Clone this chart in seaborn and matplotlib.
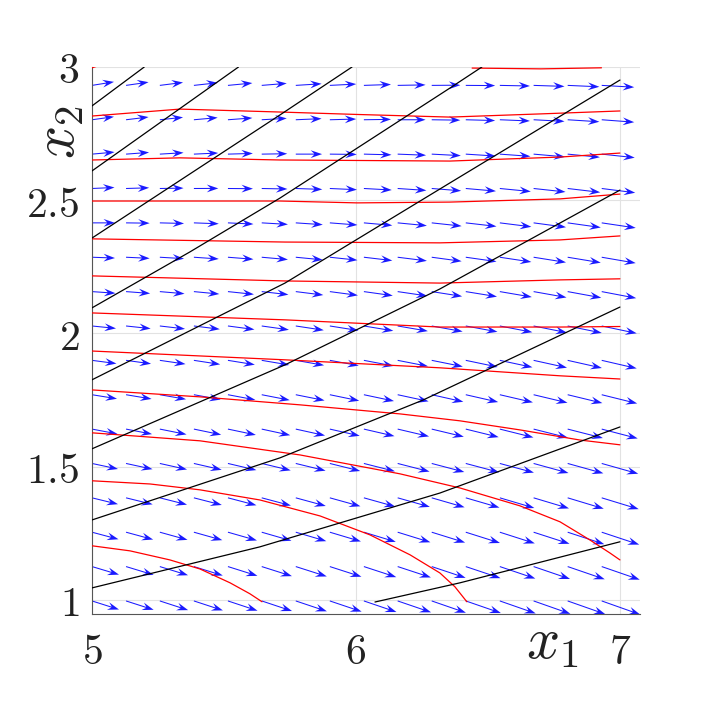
import numpy as np
import pandas as pd
import seaborn as sns
import matplotlib
matplotlib.use("Agg")
import matplotlib.pyplot as plt

# arrow tails of the quiver grid
x1_grid = [5.000, 5.129, 5.257, 5.386, 5.515, 5.643, 5.772, 5.901,
           6.030, 6.158, 6.287, 6.416, 6.545, 6.673, 6.802, 6.931]
x2_grid = [0.996, 1.125, 1.254, 1.383, 1.512, 1.641, 1.770, 1.899,
           2.028, 2.157, 2.286, 2.415, 2.544, 2.673, 2.802, 2.931]

# field components (rows bottom -> top)
U = [
    [27.0, 27.6, 28.3, 29.0, 29.6, 30.3, 31.1, 31.8, 32.6, 33.4, 34.2, 35.1, 35.9, 36.8, 37.6, 38.5],
    [27.0, 27.6, 28.2, 28.9, 29.5, 30.2, 31.0, 31.6, 32.4, 33.2, 33.9, 34.7, 35.5, 36.4, 37.1, 38.0],
    [26.5, 27.1, 27.7, 28.4, 29.0, 29.7, 30.5, 31.1, 31.9, 32.7, 33.4, 34.2, 35.0, 35.9, 36.6, 37.5],
    [26.0, 26.6, 27.2, 27.9, 28.5, 29.2, 30.0, 30.6, 31.4, 32.2, 32.9, 33.7, 34.5, 35.4, 36.1, 37.0],
    [26.0, 26.5, 27.2, 27.8, 28.4, 29.0, 29.8, 30.4, 31.1, 31.9, 32.6, 33.4, 34.1, 34.9, 35.7, 36.5],
    [25.5, 26.0, 26.7, 27.3, 27.9, 28.5, 29.3, 29.9, 30.6, 31.4, 32.1, 32.9, 33.6, 34.4, 35.2, 36.0],
    [25.0, 25.5, 26.2, 26.8, 27.4, 28.0, 28.8, 29.4, 30.1, 30.9, 31.6, 32.4, 33.1, 33.9, 34.7, 35.5],
    [24.5, 25.0, 25.7, 26.3, 26.9, 27.5, 28.3, 28.9, 29.6, 30.4, 31.1, 31.9, 32.6, 33.4, 34.2, 35.0],
    [24.0, 24.6, 25.2, 25.9, 26.5, 27.2, 28.0, 28.6, 29.4, 30.2, 30.9, 31.7, 32.5, 33.4, 34.1, 35.0],
    [23.5, 24.1, 24.7, 25.4, 26.0, 26.7, 27.5, 28.1, 28.9, 29.7, 30.4, 31.2, 32.0, 32.9, 33.6, 34.5],
    [23.0, 23.6, 24.2, 24.9, 25.5, 26.2, 27.0, 27.6, 28.4, 29.2, 29.9, 30.7, 31.5, 32.4, 33.1, 34.0],
    [23.0, 23.6, 24.2, 24.9, 25.5, 26.2, 27.0, 27.6, 28.4, 29.2, 29.9, 30.7, 31.5, 32.4, 33.1, 34.0],
    [22.5, 23.1, 23.7, 24.4, 25.0, 25.7, 26.5, 27.1, 27.9, 28.7, 29.4, 30.2, 31.0, 31.9, 32.6, 33.5],
    [22.5, 23.0, 23.7, 24.3, 24.9, 25.5, 26.3, 26.9, 27.6, 28.4, 29.1, 29.9, 30.6, 31.4, 32.2, 33.0],
    [22.0, 22.5, 23.2, 23.8, 24.4, 25.0, 25.8, 26.4, 27.1, 27.9, 28.6, 29.4, 30.1, 30.9, 31.7, 32.5],
    [22.0, 22.5, 23.2, 23.8, 24.4, 25.0, 25.8, 26.4, 27.1, 27.9, 28.6, 29.4, 30.1, 30.9, 31.7, 32.5],
]
V = [
    [-8.5, -8.8, -9.1, -9.4, -9.7, -10.0, -10.3, -10.6, -11.0, -11.3, -11.7, -12.0, -12.4, -12.8, -13.1, -13.5],
    [-8.0, -8.3, -8.6, -8.9, -9.2, -9.5, -9.8, -10.1, -10.5, -10.8, -11.2, -11.5, -11.9, -12.3, -12.6, -13.0],
    [-7.0, -7.3, -7.6, -7.9, -8.2, -8.5, -8.9, -9.2, -9.6, -10.0, -10.3, -10.7, -11.1, -11.5, -11.9, -12.3],
    [-6.3, -6.5, -6.8, -7.1, -7.4, -7.7, -8.1, -8.4, -8.7, -9.0, -9.4, -9.7, -10.1, -10.5, -10.8, -11.2],
    [-5.5, -5.7, -6.0, -6.3, -6.6, -6.9, -7.2, -7.5, -7.8, -8.1, -8.5, -8.8, -9.1, -9.5, -9.8, -10.2],
    [-4.8, -5.0, -5.3, -5.6, -5.8, -6.1, -6.4, -6.7, -7.0, -7.3, -7.6, -8.0, -8.3, -8.6, -8.9, -9.3],
    [-4.0, -4.2, -4.5, -4.8, -5.1, -5.4, -5.7, -6.0, -6.3, -6.6, -7.0, -7.3, -7.6, -8.0, -8.3, -8.7],
    [-3.2, -3.4, -3.7, -4.0, -4.3, -4.6, -4.9, -5.2, -5.6, -5.9, -6.2, -6.6, -6.9, -7.3, -7.6, -8.0],
    [-2.4, -2.6, -2.9, -3.2, -3.5, -3.8, -4.2, -4.5, -4.8, -5.1, -5.5, -5.8, -6.2, -6.6, -6.9, -7.3],
    [-1.6, -1.8, -2.1, -2.4, -2.7, -3.0, -3.4, -3.7, -4.0, -4.3, -4.7, -5.0, -5.4, -5.8, -6.1, -6.5],
    [-0.8, -1.1, -1.4, -1.7, -2.0, -2.3, -2.6, -2.9, -3.3, -3.6, -4.0, -4.3, -4.7, -5.1, -5.4, -5.8],
    [0.0, -0.3, -0.6, -0.9, -1.2, -1.5, -1.8, -2.1, -2.5, -2.8, -3.2, -3.5, -3.9, -4.3, -4.6, -5.0],
    [1.0, 0.7, 0.4, 0.1, -0.2, -0.5, -0.9, -1.2, -1.5, -1.9, -2.3, -2.6, -3.0, -3.4, -3.8, -4.2],
    [2.0, 1.7, 1.4, 1.1, 0.7, 0.4, 0.0, -0.3, -0.7, -1.1, -1.5, -1.9, -2.2, -2.7, -3.1, -3.5],
    [3.0, 2.7, 2.4, 2.1, 1.8, 1.4, 1.1, 0.7, 0.4, 0.0, -0.4, -0.8, -1.2, -1.6, -2.0, -2.4],
    [3.5, 3.2, 2.9, 2.6, 2.3, 2.0, 1.6, 1.3, 0.9, 0.5, 0.2, -0.2, -0.6, -1.0, -1.4, -1.8],
]

# red trajectories
red_x1 = [
    [5.0, 5.025],
    [6.44, 6.70, 6.93],
    [5.0, 5.333, 5.712, 6.0, 6.356, 6.7, 7.0],
    [5.0, 5.333, 5.712, 6.356, 6.773, 7.0],
    [5.0, 5.712, 6.004, 6.356, 6.773, 7.0],
    [5.0, 5.731, 6.318, 6.773, 7.0],
    [5.0, 5.731, 6.318, 6.773, 7.0],
    [5.0, 5.731, 6.318, 6.773, 7.0],
    [5.0, 5.731, 6.318, 6.773, 7.0],
    [5.0, 5.409, 5.788, 6.167, 6.394, 6.621, 6.848, 7.0],
    [5.0, 5.409, 5.788, 6.167, 6.394, 6.621, 6.773, 6.886, 6.962, 7.0],
    [5.0, 5.220, 5.409, 5.636, 5.864, 6.053, 6.205, 6.318, 6.375, 6.420],
    [5.0, 5.144, 5.295, 5.409, 5.523, 5.598, 5.644],
]
red_x2 = [
    [2.997, 3.005],
    [2.996, 2.993, 2.997],
    [2.816, 2.842, 2.831, 2.822, 2.812, 2.824, 2.835],
    [2.651, 2.659, 2.651, 2.647, 2.662, 2.677],
    [2.497, 2.497, 2.490, 2.493, 2.505, 2.523],
    [2.355, 2.343, 2.340, 2.351, 2.366],
    [2.216, 2.197, 2.189, 2.201, 2.205],
    [2.077, 2.051, 2.024, 2.024, 2.026],
    [1.934, 1.901, 1.871, 1.841, 1.829],
    [1.788, 1.762, 1.732, 1.698, 1.672, 1.638, 1.600, 1.582],
    [1.627, 1.597, 1.544, 1.473, 1.420, 1.353, 1.293, 1.225, 1.176, 1.150],
    [1.447, 1.435, 1.413, 1.375, 1.315, 1.244, 1.169, 1.101, 1.049, 0.993],
    [1.203, 1.184, 1.150, 1.116, 1.064, 1.023, 0.993],
]

# black curves
black_x1 = [
    [6.072, 6.394, 7.0],
    [5.0, 5.636, 6.318, 7.0],
    [5.0, 5.712, 6.254, 7.0],
    [5.0, 5.731, 6.318, 7.0],
    [5.0, 5.731, 6.356, 7.0],
    [5.0, 5.371, 5.712, 6.356, 6.477],
    [5.0, 5.712, 5.985],
    [5.0, 5.555],
    [5.0, 5.198],
]
black_x2 = [
    [0.992, 1.064, 1.218],
    [1.045, 1.199, 1.401, 1.649],
    [1.300, 1.533, 1.750, 2.099],
    [1.567, 1.882, 2.167, 2.538],
    [1.826, 2.189, 2.565, 2.951],
    [2.096, 2.306, 2.508, 2.921, 3.0],
    [2.358, 2.820, 3.0],
    [2.610, 3.0],
    [2.854, 3.0],
]


def to_frame(xs, ys):
    rows = []
    for i, (a, b) in enumerate(zip(xs, ys)):
        for x, y in zip(a, b):
            rows.append({"curve": i, "x1": x, "x2": y})
    return pd.DataFrame(rows)


sns.set_theme(style="white")
plt.rcParams["mathtext.fontset"] = "cm"

fig = plt.figure(figsize=(7.06, 7.06), dpi=100)
ax = fig.add_axes([92 / 706, 92 / 706, 548 / 706, 547 / 706])

X, Y = np.meshgrid(x1_grid, x2_grid)
ax.quiver(X, Y, np.array(U), np.array(V), angles="xy", scale_units="xy",
          scale=264, color="#1a1aff", width=0.0019, headwidth=7.5,
          headlength=11, headaxislength=7.5, zorder=2)

sns.lineplot(data=to_frame(red_x1, red_x2), x="x1", y="x2", units="curve",
             estimator=None, sort=False, color="red", lw=0.9, ax=ax,
             legend=False, zorder=3)
sns.lineplot(data=to_frame(black_x1, black_x2), x="x1", y="x2", units="curve",
             estimator=None, sort=False, color="black", lw=0.9, ax=ax,
             legend=False, zorder=3)

ax.set_xlim(5.0, 7.076)
ax.set_ylim(0.947, 3.0)
ax.set_xticks([5, 6, 7], labels=["$5$", "$6$", "$7$"])
ax.set_yticks([1, 1.5, 2, 2.5, 3], labels=["$1$", "$1.5$", "$2$", "$2.5$", "$3$"])
ax.grid(True, color="#e2e2e2", lw=0.8)
ax.set_axisbelow(True)
for s in ["top", "right"]:
    ax.spines[s].set_visible(False)
for s in ["left", "bottom"]:
    ax.spines[s].set_color("#555555")
    ax.spines[s].set_linewidth(0.8)
ax.tick_params(axis="both", direction="in", length=5, width=0.6,
               color="#555555", labelsize=30, labelcolor="#222222")
ax.tick_params(axis="x", pad=12)
ax.tick_params(axis="y", pad=9)

ax.set_xlabel("$x_1$", fontsize=42, color="#222222")
ax.xaxis.set_label_coords(0.84, -0.05)
ax.xaxis.label.set_va("center")
ax.set_ylabel("$x_2$", fontsize=42, color="#222222")
ax.yaxis.set_label_coords(-0.062, 0.88)
ax.yaxis.label.set_va("center")
ax.yaxis.label.set_ha("center")

fig.savefig("out.png", dpi=100, facecolor="white")
